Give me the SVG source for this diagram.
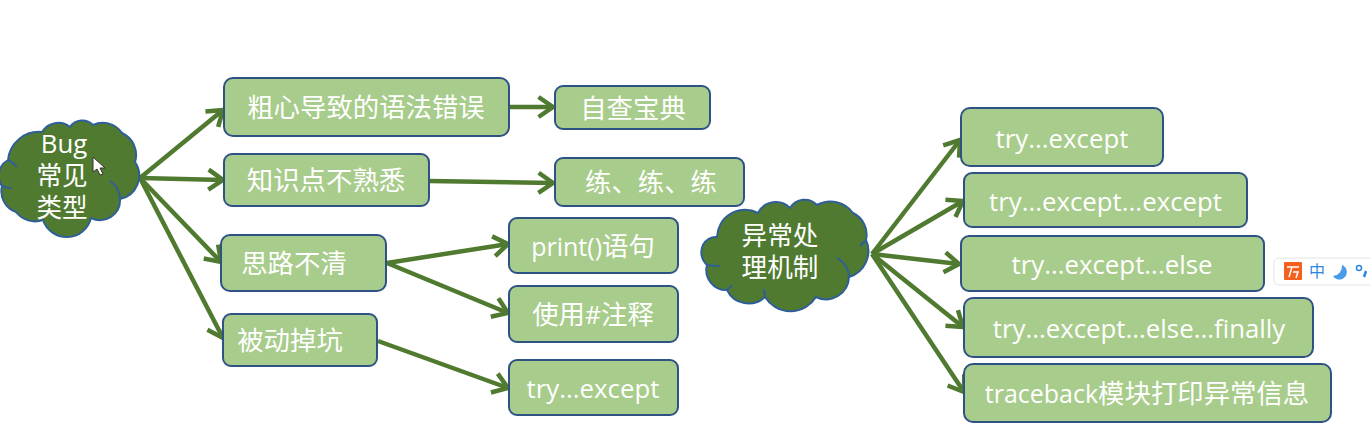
<svg xmlns="http://www.w3.org/2000/svg" width="1370" height="440" viewBox="0 0 1370 440">
<style>
.box{fill:#a8cc8b;stroke:#2f5285;stroke-width:2}
.cloud{fill:#517a31;stroke:#2f5f97;stroke-width:2;stroke-linejoin:round}
.in{fill:none;stroke:#2f5f97;stroke-width:2}
.t{font-family:"Open Sans","Noto Sans CJK SC",sans-serif;font-size:26.4px;fill:#fff;text-anchor:middle;dominant-baseline:central}
.l{font-size:25.8px}
.m{font-size:25px}
.z{font-family:"Liberation Sans","Noto Sans CJK SC",sans-serif;font-size:25.6px}
.c{stroke:#4f7a30;stroke-width:4.5;fill:none;marker-end:url(#a)}
</style>
<defs>
<marker id="a" markerUnits="userSpaceOnUse" markerWidth="30" markerHeight="30" refX="21" refY="12" orient="auto" overflow="visible">
<path d="M6.5 2 L21 12 L6.5 22" fill="none" stroke="#4f7a30" stroke-width="4.5"/>
</marker>
</defs>
<rect width="1370" height="440" fill="#fff"/>
<g id="connectors">
<path class="c" d="M140 178L223 110"/>
<path class="c" d="M140 178L223 180"/>
<path class="c" d="M140 178L221 262"/>
<path class="c" d="M140 178L223 338"/>
<path class="c" d="M509 107L553 107"/>
<path class="c" d="M429 181L553 183"/>
<path class="c" d="M387 263L508 244"/>
<path class="c" d="M387 263L508 313"/>
<path class="c" d="M378 341L508 388"/>
<path class="c" d="M872 254L960 140"/>
<path class="c" d="M872 254L963 201"/>
<path class="c" d="M872 254L959 264"/>
<path class="c" d="M872 254L963 327"/>
<path class="c" d="M872 254L964 392"/>
</g>
<g id="cloud-bug">
<path class="cloud" d="M8 160A31 31 0 0 1 42 132A19 19 0 0 1 70 127A15 15 0 0 1 93 125A23 23 0 0 1 122 133A24 24 0 0 1 135 162A24 24 0 0 1 120 199A20 20 0 0 1 91 218A25 25 0 0 1 43 220A24 24 0 0 1 16 212A22 22 0 0 1 2 186A18 18 0 0 1 8 160Z"/>
<path class="in" d="M110 181A22 22 0 0 1 120 199M8 160Q14 163 17 167M2 186Q6 188 12 188"/>
<text class="t l" x="64" y="143">Bug</text>
<text class="t z" x="62" y="176">常见</text>
<text class="t z" x="62" y="208">类型</text>
</g>
<g id="n1"><rect class="box" x="224" y="78" width="285" height="58" rx="9"/><text class="t" x="366" y="107">粗心导致的语法错误</text></g>
<g id="n2"><rect class="box" x="555" y="86" width="155" height="43" rx="8"/><text class="t" x="633" y="108">自查宝典</text></g>
<g id="n3"><rect class="box" x="224" y="154" width="205" height="52" rx="8"/><text class="t" x="326" y="180">知识点不熟悉</text></g>
<g id="n4"><rect class="box" x="555" y="158" width="189" height="48" rx="8"/><text class="t" x="651" y="182">练、练、练</text></g>
<g id="n5"><rect class="box" x="221" y="235" width="165" height="56" rx="9"/><text class="t" x="294" y="263">思路不清</text></g>
<g id="n6"><rect class="box" x="509" y="218" width="169" height="55" rx="8"/><text class="t" x="593" y="246"><tspan class="m">print()</tspan>语句</text></g>
<g id="n7"><rect class="box" x="509" y="286" width="169" height="56" rx="8"/><text class="t" x="593" y="314">使用<tspan class="m">#</tspan>注释</text></g>
<g id="n8"><rect class="box" x="223" y="314" width="154" height="52" rx="8"/><text class="t" x="290" y="340">被动掉坑</text></g>
<g id="n9"><rect class="box" x="509" y="360" width="169" height="55" rx="8"/><text class="t l" x="593" y="388">try...except</text></g>
<g id="cloud-exc">
<path class="cloud" d="M717 237A28 28 0 0 1 758 213A20 20 0 0 1 790 208A17 17 0 0 1 817 205A28 28 0 0 1 853 213A24 24 0 0 1 866 240A27 27 0 0 1 849 277A23 23 0 0 1 816 297A30 30 0 0 1 765 297A24 24 0 0 1 727 290A20 20 0 0 1 707 265A17 17 0 0 1 703 245A14 14 0 0 1 717 237Z"/>
<path class="in" d="M837 258A22 22 0 0 1 849 277M866 240Q863 243 860 246M707 265Q712 266 720 266M727 290Q730 288 732 285M765 297Q764 292 764 289"/>
<text class="t z" x="780" y="236">异常处</text>
<text class="t z" x="780" y="268">理机制</text>
</g>
<g id="n10"><rect class="box" x="961" y="108" width="202" height="58" rx="9"/><text class="t l" x="1062" y="138">try...except</text></g>
<g id="n11"><rect class="box" x="964" y="173" width="283" height="54" rx="8"/><text class="t l" x="1105.5" y="201">try...except...except</text></g>
<g id="n12"><rect class="box" x="961" y="236" width="303" height="55" rx="8"/><text class="t l" x="1112" y="264">try...except...else</text></g>
<g id="n13"><rect class="box" x="964" y="298" width="349" height="59" rx="9"/><text class="t l" x="1139" y="328">try...except...else...finally</text></g>
<g id="n14"><rect class="box" x="964" y="364" width="367" height="58" rx="9"/><text class="t" x="1147" y="393"><tspan class="m">traceback</tspan>模块打印异常信息</text></g>
<g id="toolbar">
<rect x="1274" y="258" width="110" height="27" rx="5" fill="#fff" stroke="#e4e4e4"/>
<rect x="1284" y="262" width="18" height="18" rx="1" fill="#f4601e"/>
<path d="M1287 267H1299M1292 267L1289 277M1293 272H1298L1296 278" fill="none" stroke="#fff" stroke-width="1.5"/>
<text x="1317" y="270" font-family="Noto Sans CJK SC,sans-serif" font-size="16" fill="#2f86df" text-anchor="middle" dominant-baseline="central">中</text>
<path d="M1342 265A7.5 7.5 0 1 1 1333 276A10 10 0 0 0 1342 265Z" fill="#4c9be8"/>
<circle cx="1359" cy="268" r="2.5" fill="none" stroke="#2f86df" stroke-width="1.5"/>
<path d="M1366 271L1364 277" stroke="#2f86df" stroke-width="2.5"/>
</g>
<g id="cursor">
<path d="M93 157L93 172L97 169L100 175L103 174L100 168L105 168Z" fill="#fff" stroke="#333" stroke-width="1"/>
</g>
</svg>
